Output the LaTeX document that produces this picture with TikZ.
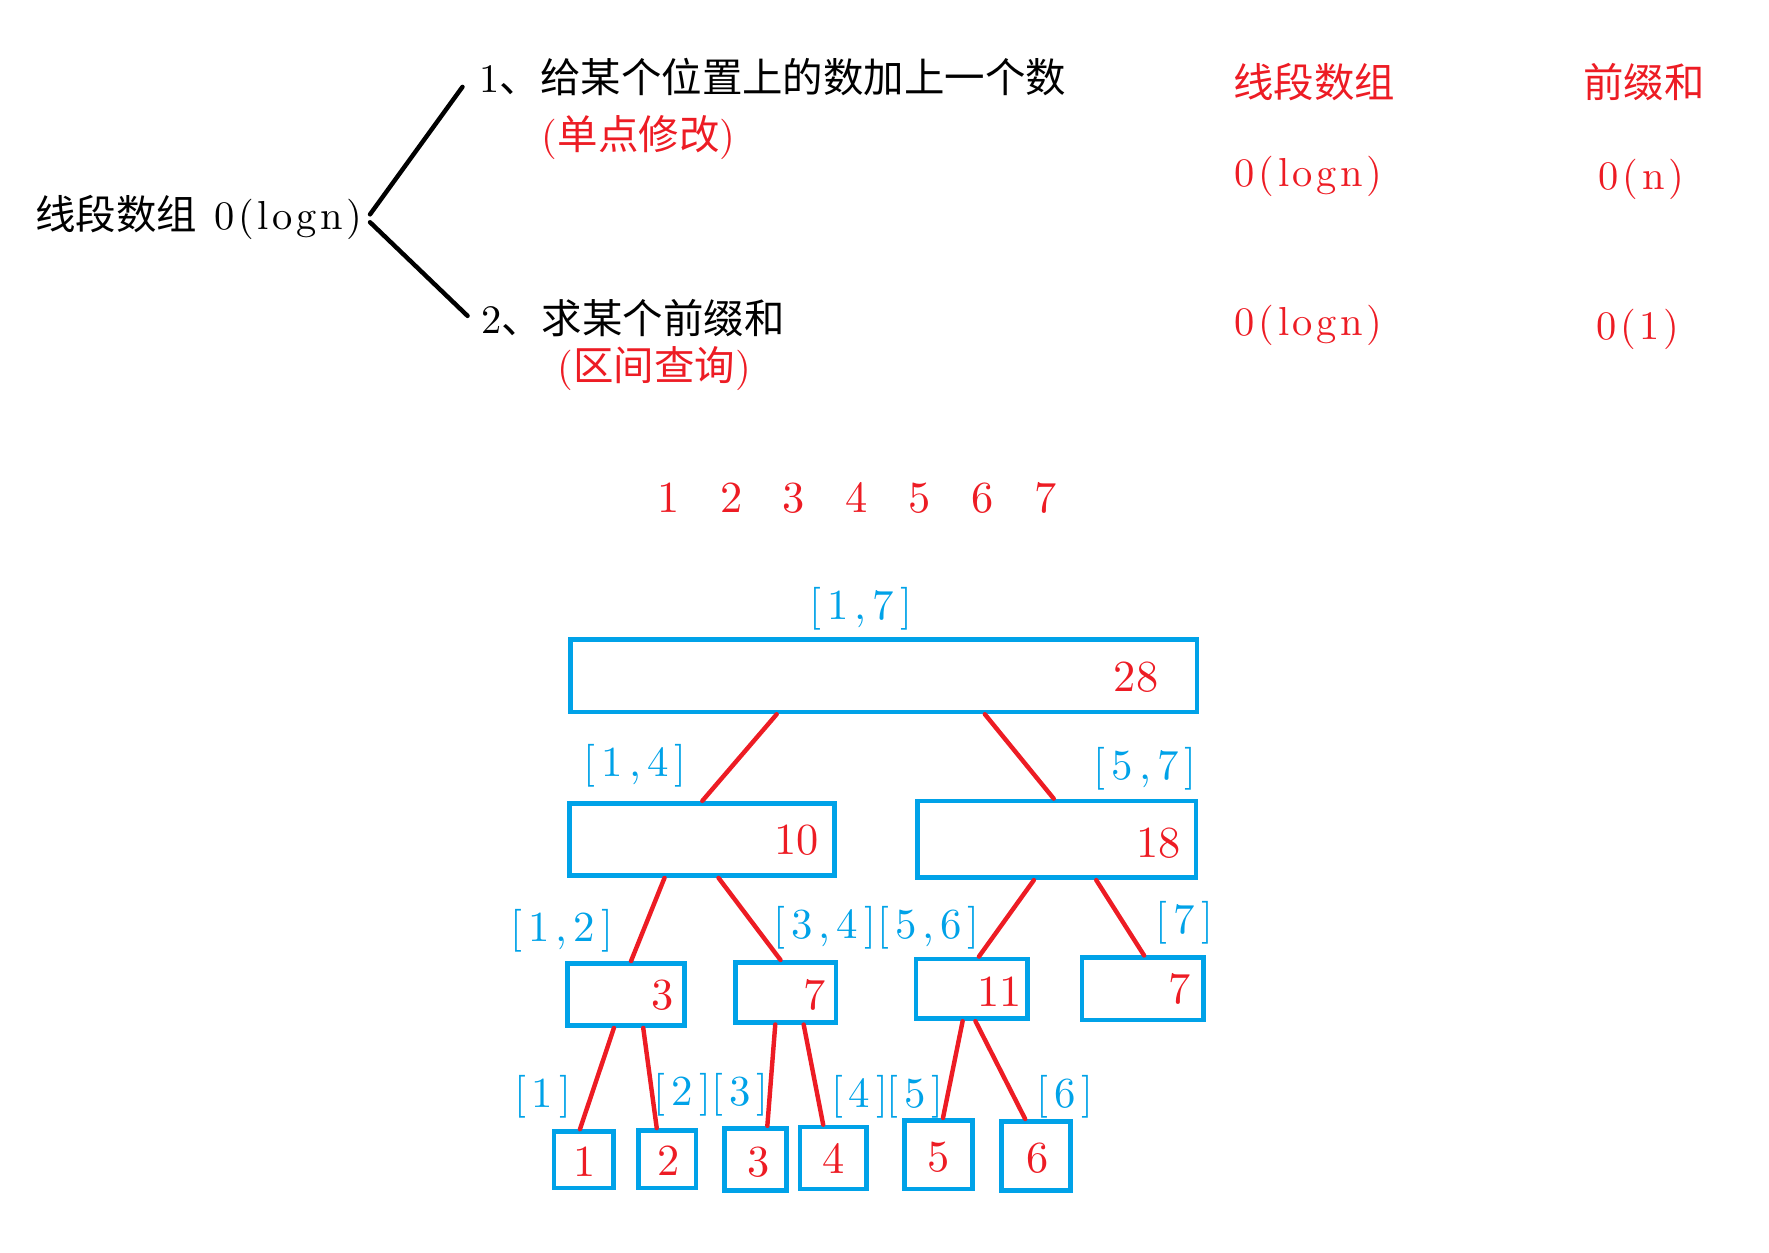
\documentclass[tikz,border=0pt]{standalone}
\usepackage{fontspec}
\setmainfont{lmroman10-regular.otf}
\newfontfamily\cjk{Noto Sans CJK SC}
\usepackage{xcolor}
\usetikzlibrary{positioning, fit, calc}
\definecolor{segblue}{RGB}{0,162,232}
\definecolor{segred}{RGB}{237,28,36}
\tikzset{
  txt/.style={font=\fontsize{25.5}{30}\selectfont\addfontfeatures{LetterSpace=9}, inner sep=2pt},
  redtxt/.style={txt, text=segred},
  num/.style={font=\fontsize{28}{32}\selectfont, text=segred, inner sep=1pt},
  rng/.style={font=\fontsize{27}{32}\selectfont\addfontfeatures{LetterSpace=14}, text=segblue, inner sep=1pt},
  seg/.style={draw=segblue, line width=3pt, inner sep=0pt},
  edge/.style={draw=segred, line width=2.8pt, line cap=round},
  brch/.style={draw=black, line width=2.8pt, line cap=round},
}

\begin{document}
\begin{tikzpicture}[x=0.025cm, y=-0.025cm]
  \useasboundingbox (0,0) rectangle (1568,1110);

  % Operations
  \node[txt, anchor=east] (lt) at (324,193) {{\cjk 线段数组} 0(logn)};
  \node[txt] (q1) at (685,68) {1{\cjk 、给某个位置上的数加上一个数}};
  \node[redtxt] (q1s) at (566,122) {({\cjk 单点修改})};
  \node[txt] (q2) at (561,282) {2{\cjk 、求某个前缀和}};
  \node[redtxt] (q2s) at (580,327) {({\cjk 区间查询})};
  \draw[brch] ($(lt.east)+(4,-3)$) -- ($(q1.west)+(-12,9)$);
  \draw[brch] ($(lt.east)+(4,4)$) -- ($(q2.west)+(-9,-2)$);

  % Complexity table
  \node[redtxt] (h1) at (1165,73) {\cjk 线段数组};
  \node[redtxt] (h2) at (1457,73) {\cjk 前缀和};
  \node[redtxt] (c11) at (1160,156) {0(logn)};
  \node[redtxt] (c12) at (1455,159) {0(n)};
  \node[redtxt] (c21) at (1160,288) {0(logn)};
  \node[redtxt] (c22) at (1452,292) {0(1)};

  % Array indices
  \node[num] (idx) at (759.5,441)
       {1\hspace{0.9cm}2\hspace{0.9cm}3\hspace{0.9cm}4\hspace{0.9cm}5\hspace{0.9cm}6\hspace{0.9cm}7};

  % Tree boxes
  \node[seg, fit={(506,567) (1061,631)}] (r17) {};
  \node[seg, fit={(505,712) (740,776)}] (r14) {};
  \node[seg, fit={(813,710) (1060,778)}] (r57) {};
  \node[seg, fit={(503,854) (607,909)}] (r12) {};
  \node[seg, fit={(652,853) (741,906)}] (r34) {};
  \node[seg, fit={(812,850) (911,903)}] (r56) {};
  \node[seg, fit={(959,849) (1067,904)}] (r7) {};
  \node[seg, fit={(491,1003) (544,1053)}] (r1) {};
  \node[seg, fit={(566,1002) (617,1053)}] (r2) {};
  \node[seg, fit={(642,1000) (697,1055)}] (r3) {};
  \node[seg, fit={(709,999) (768,1054)}] (r4) {};
  \node[seg, fit={(802,993) (862,1054)}] (r5) {};
  \node[seg, fit={(888,994) (949,1055)}] (r6) {};

  % Sums
  \node[num] (v17) at (1007,600) {28};
  \node[num] (v14) at (706,745) {10};
  \node[num] (v57) at (1027,747) {18};
  \node[num] (v12) at (587,882) {3};
  \node[num] (v34) at (722,882) {7};
  \node[num] (v56) at (886,879) {11};
  \node[num] (v7) at (1046,877) {7};
  \node[num] (v1) at (518,1030) {1};
  \node[num] (v2) at (593,1029) {2};
  \node[num] (v3) at (672,1030) {3};
  \node[num] (v4) at (739,1027) {4};
  \node[num] (v5) at (832,1026) {5};
  \node[num] (v6) at (920,1027) {6};

  % Ranges
  \node[rng] (l17) at (763,540) {[1,7]};
  \node[rng] (l14) at (563,679) {[1,4]};
  \node[rng] (l57) at (1015,681) {[5,7]};
  \node[rng] (l12) at (498,825) {[1,2]};
  \node[rng] (l34) at (731,822) {[3,4]};
  \node[rng] (l56) at (823,822) {[5,6]};
  \node[rng] (l7) at (1050,818) {[7]};
  \node[rng] (l1) at (481,972) {[1]};
  \node[rng] (l2) at (605,970) {[2]};
  \node[rng] (l3) at (656,970) {[3]};
  \node[rng] (l4) at (762,972) {[4]};
  \node[rng] (l5) at (811,972) {[5]};
  \node[rng] (l6) at (944,972) {[6]};

  % Edges
  \draw[edge] ($(r17.south west)!.33!(r17.south east)$) -- ($(r14.north west)!.50!(r14.north east)$);
  \draw[edge] ($(r17.south west)!.66!(r17.south east)$) -- ($(r57.north west)!.49!(r57.north east)$);
  \draw[edge] ($(r14.south west)!.36!(r14.south east)$) -- ($(r12.north west)!.54!(r12.north east)$);
  \draw[edge] ($(r14.south west)!.56!(r14.south east)$) -- ($(r34.north west)!.45!(r34.north east)$);
  \draw[edge] ($(r57.south west)!.42!(r57.south east)$) -- ($(r56.north west)!.56!(r56.north east)$);
  \draw[edge] ($(r57.south west)!.64!(r57.south east)$) -- ($(r7.north west)!.51!(r7.north east)$);
  \draw[edge] ($(r12.south west)!.40!(r12.south east)$) -- ($(r1.north west)!.44!(r1.north east)$);
  \draw[edge] ($(r12.south west)!.64!(r12.south east)$) -- ($(r2.north west)!.33!(r2.north east)$);
  \draw[edge] ($(r34.south west)!.40!(r34.south east)$) -- ($(r3.north west)!.68!(r3.north east)$);
  \draw[edge] ($(r34.south west)!.67!(r34.south east)$) -- ($(r4.north west)!.36!(r4.north east)$);
  \draw[edge] ($(r56.south west)!.42!(r56.south east)$) -- ($(r5.north west)!.56!(r5.north east)$);
  \draw[edge] ($(r56.south west)!.53!(r56.south east)$) -- ($(r6.north west)!.35!(r6.north east)$);
\end{tikzpicture}
\end{document}
